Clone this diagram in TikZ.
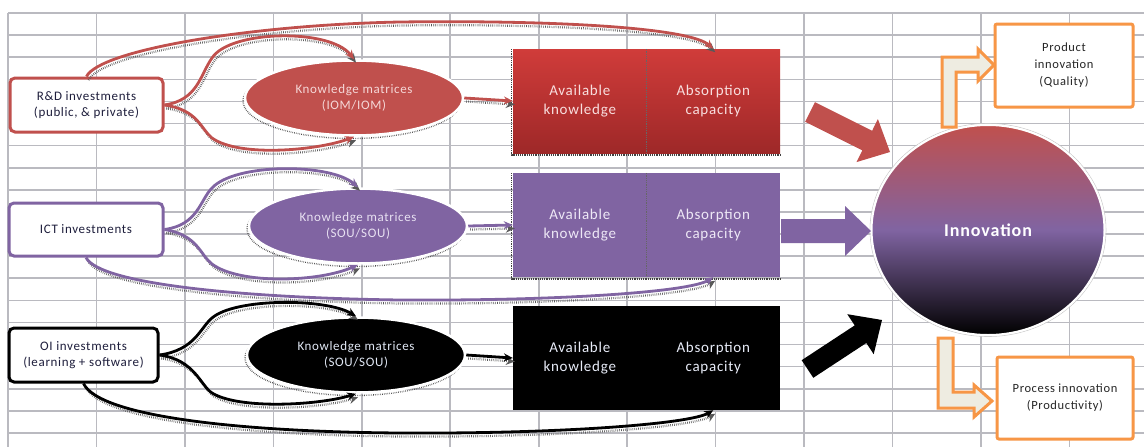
\documentclass[tikz,border=0pt]{standalone}
\usepackage{fontspec}
\setmainfont{Carlito}[LetterSpace=5]
\usetikzlibrary{arrows.meta,shapes.geometric}
\definecolor{cRed}{RGB}{192,80,77}
\definecolor{cRedT}{RGB}{208,60,58}
\definecolor{cRedB}{RGB}{158,40,40}
\definecolor{cPur}{RGB}{128,100,162}
\definecolor{cOra}{RGB}{247,150,70}
\definecolor{cGrid}{RGB}{186,186,192}
\definecolor{cBeige}{RGB}{238,236,225}
\definecolor{cTxt}{RGB}{30,30,60}
\begin{document}
\begin{tikzpicture}[x=1pt,y=-1pt,
  ibox/.style={draw, line width=3pt, rounded corners=5pt, fill=white, align=center,
    text=cTxt, font=\fontsize{13}{16}\selectfont, inner sep=0pt},
  kell/.style={ellipse, draw=white, line width=2.5pt, inner sep=0pt, align=center,
    font=\fontsize{13}{16.5}\selectfont, minimum width=218pt, minimum height=75pt,
    preaction={draw=black!70, line width=1.4pt, dash pattern=on 0.6pt off 1.2pt,
      transform canvas={shift={(-2pt,-3pt)}}}},
  cell/.style={rectangle, inner sep=0pt, minimum width=133.5pt, minimum height=104pt,
    align=center, font=\fontsize{15}{18.5}\selectfont},
  obox/.style={draw=cOra, line width=3pt, fill=white, rounded corners=2pt, align=center,
    inner sep=0pt, text=black!85, font=\fontsize{12.5}{17}\selectfont},
  conn/.style={line width=2.8pt, -{Stealth[length=9pt,width=8pt]},
    preaction={draw=black!65, line width=2.2pt, dash pattern=on 0.6pt off 1.3pt,
      transform canvas={shift={(2pt,-3.5pt)}}}},
  bent/.style={fill=cBeige, draw=cOra, line width=3pt, line join=miter},
  divider/.style={black!60, densely dotted, line width=0.8pt},
  rshadow/.style={black!75, densely dotted, line width=1.2pt}
]
\useasboundingbox (0,0) rectangle (1144,447);
\fill[white] (0,0) rectangle (1144,447);
% grid
\foreach \i in {0,...,12} \draw[cGrid, line width=1.6pt] ({8+88.45*\i},13) -- ({8+88.45*\i},447);
\foreach \j in {0,...,19} \draw[cGrid, line width=1.6pt] (8,{13+22.1*\j}) -- (1144,{13+22.1*\j});

% input boxes
\node[ibox, draw=cRed, minimum width=153pt, minimum height=54pt] (rd) at (86.5,105) {R\&D investments\\(public, \& private)};
\node[ibox, draw=cPur, minimum width=154pt, minimum height=53pt] (ict) at (86,229.5) {ICT investments};
\node[ibox, draw=black, minimum width=149pt, minimum height=54pt] (oi) at (83.5,355) {OI investments\\(learning + software)};

% ellipses
\node[kell, fill=cRed, text={rgb,255:red,245;green,215;blue,215}] (ellR) at (354,98) {Knowledge matrices\\(IOM/IOM)};
\node[kell, fill=cPur, text={rgb,255:red,232;green,225;blue,242}] (ellP) at (358,226) {Knowledge matrices\\(SOU/SOU)};
\node[kell, fill=black, text={rgb,255:red,225;green,232;blue,245}] (ellK) at (356,355) {Knowledge matrices\\(SOU/SOU)};

% rectangles
\draw[rshadow] (511.5,49) -- (511.5,155) -- (780,155);
\node[cell, top color=cRedT, bottom color=cRedB, text={rgb,255:red,248;green,222;blue,222}] (avR) at (579.75,101) {Available\\knowledge};
\node[cell, top color=cRedT, bottom color=cRedB, text={rgb,255:red,248;green,222;blue,222}] (abR) at (713.25,101) {Absorption\\capacity};
\draw[divider] (avR.north east) -- (avR.south east);

\draw[rshadow] (511.5,173) -- (511.5,279) -- (780,279);
\node[cell, fill=cPur, text={rgb,255:red,238;green,232;blue,246}] (avP) at (579.75,225) {Available\\knowledge};
\node[cell, fill=cPur, text={rgb,255:red,238;green,232;blue,246}] (abP) at (713.25,225) {Absorption\\capacity};
\draw[divider] (avP.north east) -- (avP.south east);

\node[cell, fill=black, text={rgb,255:red,232;green,236;blue,248}] (avK) at (579.75,358) {Available\\knowledge};
\node[cell, fill=black, text={rgb,255:red,232;green,236;blue,248}] (abK) at (713.25,358) {Absorption\\capacity};

% innovation circle
\node[ellipse, draw=black!20, line width=0.6pt, minimum width=236pt, minimum height=213pt] (innO) at (988,230) {};
\node[ellipse, draw=white, line width=2pt, minimum width=233pt, minimum height=210pt,
  top color=cRed, bottom color=black, middle color=cPur, text=white,
  font=\bfseries\fontsize{18}{20}\selectfont] (inn) at (988,230) {Innovation};

% output boxes
\node[obox, minimum width=138pt, minimum height=83pt] (prod) at (1064,65.5) {Product\\innovation\\(Quality)};
\node[obox, minimum width=136pt, minimum height=82pt] (proc) at (1065,398) {Process innovation\\(Productivity)};

% block arrows
\fill[cRed] (814.9,102.2) -- (872.1,130.8) -- (877.9,119.1) -- (890,152) -- (856.5,162.1) -- (862.3,150.4) -- (805.1,121.8) -- cycle;
\fill[cPur] (781,219) -- (845,219) -- (845,206) -- (871,231) -- (845,256) -- (845,243) -- (781,243) -- cycle;
\fill[black] (801.7,360.2) -- (854.7,325.4) -- (847.3,314.2) -- (882,320) -- (873.7,354.2) -- (866.3,343.0) -- (813.3,377.8) -- cycle;

% bent arrows
\draw[bent] (942,127) -- (942,57) -- (978,57) -- (978,49) -- (994,65) -- (978,81) -- (978,72) -- (956,72) -- (956,127) -- cycle;
\draw[bent] (938,338) -- (953,338) -- (953,392) -- (974,392) -- (974,385) -- (992,401) -- (974,417) -- (974,408) -- (938,408) -- cycle;

% connectors R&D
\draw[conn, cRed] (rd.east) .. controls (198,100) and (200,75) .. (212,58) .. controls (230,30) and (330,28) .. (ellR.north);
\draw[conn, cRed] (rd.east) .. controls (198,110) and (200,128) .. (212,138) .. controls (240,158) and (320,150) .. (ellR.south);
\draw[conn, cRed] (rd.north) .. controls (100,50) and (250,25) .. (400,22) .. controls (560,20) and (690,28) .. (abR.north);
\draw[conn, cRed] (ellR.east) -- (avR.west);
% connectors ICT
\draw[conn, cPur] (ict.east) .. controls (198,225) and (200,200) .. (212,188) .. controls (235,163) and (330,163) .. (ellP.north);
\draw[conn, cPur] (ict.east) .. controls (198,235) and (200,255) .. (212,264) .. controls (240,285) and (320,282) .. (ellP.south);
\draw[conn, cPur] (ict.south) .. controls (100,285) and (250,298) .. (400,300) .. controls (560,301) and (690,292) .. (abP.south);
\draw[conn, cPur] (ellP.east) -- (avP.west);
% connectors OI
\draw[conn, black] (oi.east) .. controls (195,350) and (200,328) .. (212,318) .. controls (235,298) and (325,298) .. (ellK.north);
\draw[conn, black] (oi.east) .. controls (195,360) and (200,385) .. (212,393) .. controls (240,410) and (320,405) .. (ellK.south);
\draw[conn, black] (oi.south) .. controls (100,418) and (250,432) .. (400,433) .. controls (560,434) and (690,424) .. (abK.south);
\draw[conn, black] (ellK.east) -- (avK.west);
\end{tikzpicture}
\end{document}
